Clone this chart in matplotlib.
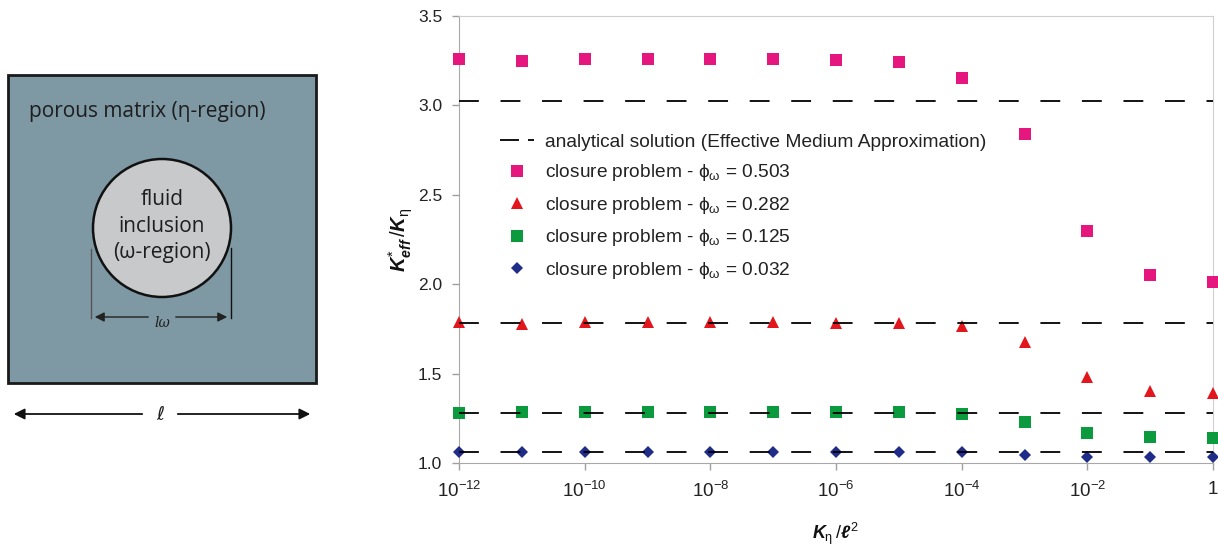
import matplotlib
matplotlib.use("Agg")
import matplotlib.pyplot as plt
from matplotlib.patches import Rectangle, Circle

# permeability ratio K_eta / l^2
k_ratio = [1e-12, 1e-11, 1e-10, 1e-9, 1e-8, 1e-7, 1e-6, 1e-5, 1e-4, 1e-3, 1e-2, 1e-1, 1]

# closure problem results for each volume fraction
phi_503 = [3.257, 3.249, 3.257, 3.257, 3.257, 3.257, 3.255, 3.240, 3.152, 2.841, 2.300, 2.049, 2.013]
phi_282 = [1.786, 1.778, 1.786, 1.786, 1.786, 1.786, 1.785, 1.783, 1.764, 1.674, 1.483, 1.400, 1.389]
phi_125 = [1.277, 1.287, 1.287, 1.287, 1.287, 1.287, 1.287, 1.287, 1.275, 1.229, 1.165, 1.146, 1.140]
phi_032 = [1.063, 1.063, 1.063, 1.063, 1.063, 1.063, 1.063, 1.063, 1.061, 1.045, 1.035, 1.033, 1.033]

# analytical solution (effective medium approximation)
ema = [3.027, 1.785, 1.279, 1.063]

phi_labels = ["0.503", "0.282", "0.125", "0.032"]
xtick_vals = [1e-12, 1e-10, 1e-8, 1e-6, 1e-4, 1e-2, 1]
xtick_labels = ["$10^{-12}$", "$10^{-10}$", "$10^{-8}$", "$10^{-6}$", "$10^{-4}$", "$10^{-2}$", "1"]
ytick_vals = [1.0, 1.5, 2.0, 2.5, 3.0, 3.5]

plt.rcParams["font.family"] = ["Liberation Sans", "DejaVu Sans"]
plt.rcParams["mathtext.fontset"] = "custom"
plt.rcParams["mathtext.rm"] = "Liberation Sans"
plt.rcParams["mathtext.it"] = "Liberation Sans:italic:bold"
plt.rcParams["mathtext.bf"] = "Liberation Sans:bold"

W, H = 1218, 547
fig = plt.figure(figsize=(W / 100, H / 100), dpi=100)

# ---- left sketch, drawn in pixel coordinates ----
sk = fig.add_axes([0, 0, 1, 1])
sk.set_xlim(0, W)
sk.set_ylim(H, 0)
sk.axis("off")

sketch_font = ["Open Sans", "DejaVu Sans"]
sk.add_patch(Rectangle((8, 75), 308, 308, facecolor="#7e98a4", edgecolor="#1a1a1a", lw=2))
sk.add_patch(Circle((162, 228), 69, facecolor="#c8c9cb", edgecolor="#111111", lw=1.8))
sk.text(29, 112, "porous matrix (η-region)", family=sketch_font, fontsize=15,
        color="#1e1e1e", va="center", ha="left")
sk.text(162, 226, "fluid\ninclusion\n(ω-region)", family=sketch_font, fontsize=15,
        color="#1e1e1e", va="center", ha="center", linespacing=1.36)

# dimension of the inclusion
sk.plot([91, 91], [249, 318], color="#555555", lw=1)
sk.plot([231, 231], [248, 318], color="#111111", lw=1)
arr = dict(arrowstyle="-|>", color="#222222", lw=1, mutation_scale=14)
sk.annotate("", xy=(92, 317), xytext=(151, 317), arrowprops=arr)
sk.annotate("", xy=(230, 317), xytext=(173, 317), arrowprops=arr)
sk.text(162, 323, "lω", family=["DejaVu Serif"], fontsize=10, color="#222222",
        ha="center", va="center", style="italic")

# size of the unit cell
arr2 = dict(arrowstyle="-|>", color="#111111", lw=1.3, mutation_scale=16)
sk.annotate("", xy=(11, 414), xytext=(145, 414), arrowprops=arr2)
sk.annotate("", xy=(313, 414), xytext=(175, 414), arrowprops=arr2)
sk.text(160, 414, "ℓ", family=["DejaVu Sans"], fontsize=14, color="#222222",
        ha="center", va="center", style="italic")

# ---- main chart ----
ax = fig.add_axes([459 / W, 1 - 463 / H, 754 / W, 447 / H])
ax.set_xscale("log")

series = [
    (phi_503, "s", "#e5177f", 8),
    (phi_282, "^", "#e3161e", 9),
    (phi_125, "s", "#0c9a3e", 8),
    (phi_032, "D", "#1f2d88", 6),
]

for i, level in enumerate(ema):
    ln = ax.axhline(level, color="black", lw=1.3, zorder=4,
                    label="analytical solution (Effective Medium Approximation)" if i == 0 else None)
    ln.set_dashes((11, 12))

for (vals, mk, col, ms), lab in zip(series, phi_labels):
    ax.plot(k_ratio, vals, linestyle="none", marker=mk, color=col, markersize=ms,
            markeredgewidth=0, clip_on=False, zorder=3,
            label="closure problem - $\\mathrm{\\phi_{\\omega}}$ = " + lab)

ax.set_xlim(1e-12, 1)
ax.set_ylim(1.0, 3.5)
ax.set_xticks(xtick_vals)
ax.set_xticklabels(xtick_labels)
ax.xaxis.set_minor_locator(matplotlib.ticker.NullLocator())
ax.set_yticks(ytick_vals)
ax.set_yticklabels(["%.1f" % v for v in ytick_vals])
ax.tick_params(axis="both", direction="out", length=5, width=1, color="#a0a0a0",
               labelsize=12.5, labelcolor="#222222")
ax.tick_params(axis="x", pad=8, labelsize=13.5)
ax.tick_params(axis="y", pad=7)

for side in ["left", "bottom"]:
    ax.spines[side].set_color("#a8a8a8")
for side in ["top", "right"]:
    ax.spines[side].set_color("#cfcfcf")

ax.set_ylabel("$K^{*}_{eff}\\,/K_{\\mathrm{\\eta}}$", fontsize=14.5, color="#111111", labelpad=2)
ax.set_xlabel("$K_{\\mathrm{\\eta}}\\,/\\ell^{2}$", fontsize=13, color="#111111", labelpad=14)

leg = ax.legend(loc="upper left", bbox_to_anchor=(0.054, 0.737), frameon=False,
                fontsize=13.8, numpoints=1, handlelength=1.8, handletextpad=0.57,
                labelspacing=0.6, borderpad=0, borderaxespad=0)
for t in leg.get_texts():
    t.set_color("#222222")
leg.get_lines()[0].set_dashes((10.5, 5))

fig.savefig("out.png", dpi=100)
